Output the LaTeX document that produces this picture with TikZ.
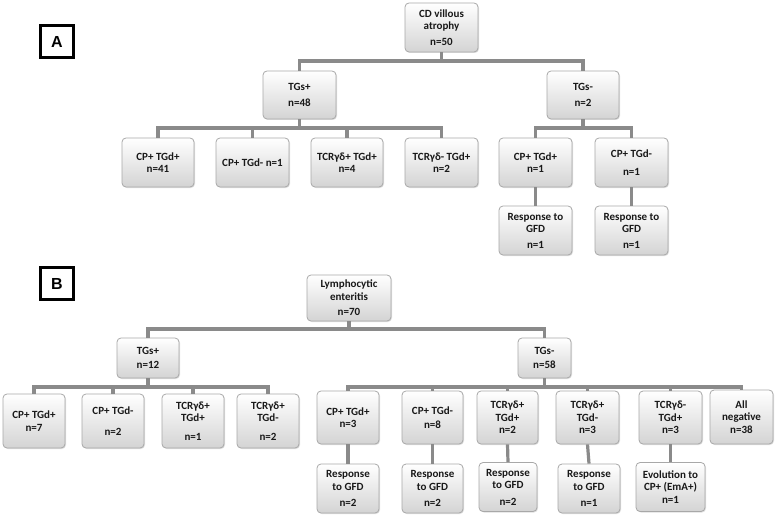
\documentclass[tikz,border=0pt]{standalone}
\usepackage{fontspec}
\setmainfont{Carlito}
\newfontfamily\labfont{Liberation Sans}
\usetikzlibrary{shadows}
\definecolor{conncol}{HTML}{8A8A8A}
\definecolor{boxline}{HTML}{A8A8A8}
\tikzset{
  box/.style={draw=boxline, line width=0.8pt, rounded corners=4pt, top color=white, bottom color=black!17,
    align=center, inner sep=0pt, text=black!90,
    font=\bfseries\fontsize{11}{12.5}\selectfont,
    drop shadow={shadow xshift=1pt, shadow yshift=-1pt, opacity=0.25, fill=black!50}},
  wA/.style={minimum width=73pt, minimum height=49pt},
  conn/.style={draw=conncol, line width=3.2pt},
  panel/.style={draw=black, line width=2.8pt, minimum width=33pt, minimum height=32pt, inner sep=0pt,
    font=\labfont\bfseries\fontsize{16}{16}\selectfont}
}
\begin{document}
\begin{tikzpicture}[x=1pt,y=-1pt]
\useasboundingbox (0,0) rectangle (776,516);
% ---------- Panel A ----------
\node[panel] (labA) at (57,41.5) {A};
\node[box,wA] (cd) at (441.5,27.5) {CD villous\\atrophy\\[3pt]n=50};
\node[box,wA,minimum height=48pt] (ap) at (299.5,95) {TGs+\\[4pt]n=48};
\node[box,minimum width=72pt,minimum height=48pt] (am) at (583,95) {TGs-\\[4pt]n=2};
\node[box,minimum width=72pt,minimum height=49pt] (a1) at (158,162.5) {CP+ TGd+\\n=41};
\node[box,wA] (a2) at (252.5,162.5) {CP+ TGd- n=1};
\node[box,minimum width=72pt,minimum height=49pt] (a3) at (347,162.5) {TCRγδ+ TGd+\\n=4};
\node[box,wA] (a4) at (441.5,162.5) {TCRγδ- TGd+\\n=2};
\node[box,wA] (a5) at (535.5,162.5) {CP+ TGd+\\n=1};
\node[box,wA] (a6) at (631.5,162.5) {CP+ TGd-\\[5pt]n=1};
\node[box,wA] (ar1) at (535.5,230.5) {Response to\\GFD\\[3pt]n=1};
\node[box,wA] (ar2) at (631.5,230.5) {Response to\\GFD\\[3pt]n=1};
% connectors A
\draw[conn] (cd.south) -- (cd.south |- 0,61) -| (ap.north);
\draw[conn] (cd.south) -- (cd.south |- 0,61) -| (am.north);
\foreach \c in {a1,a2,a3,a4} \draw[conn] (ap.south) -- (ap.south |- 0,128) -| (\c.north);
\foreach \c in {a5,a6} \draw[conn] (am.south) -- (am.south |- 0,128) -| (\c.north);
\draw[conn] (a5.south) -- (ar1.north);
\draw[conn] (a6.south) -- (ar2.north);
% ---------- Panel B ----------
\node[panel] (labB) at (57,283.5) {B};
\node[box,minimum width=84pt,minimum height=46pt] (le) at (349,298) {Lymphocytic\\enteritis\\[3pt]n=70};
\node[box,minimum width=62pt,minimum height=40pt] (bp) at (148,358) {TGs+\\[2pt]n=12};
\node[box,minimum width=53pt,minimum height=40pt] (bm) at (544.5,358) {TGs-\\[2pt]n=58};
\node[box,minimum width=62pt,minimum height=54pt] (b1) at (34,421) {CP+ TGd+\\n=7};
\node[box,minimum width=62pt,minimum height=54pt] (b2) at (113,421) {CP+ TGd-\\[8pt]n=2};
\node[box,minimum width=62pt,minimum height=54pt] (b3) at (193,421) {TCRγδ+\\TGd+\\[6pt]n=1};
\node[box,minimum width=62pt,minimum height=54pt] (b4) at (268,421) {TCRγδ+\\TGd-\\[6pt]n=2};
\node[box,minimum width=62pt,minimum height=53pt] (c1) at (348,417.5) {CP+ TGd+\\n=3};
\node[box,minimum width=61pt,minimum height=53pt] (c2) at (432.5,417.5) {CP+ TGd-\\[1pt]n=8};
\node[box,minimum width=61pt,minimum height=53pt] (c3) at (507.5,417.5) {TCRγδ+\\TGd+\\n=2};
\node[box,minimum width=63pt,minimum height=53pt] (c4) at (587.5,417.5) {TCRγδ+\\TGd-\\n=3};
\node[box,minimum width=63pt,minimum height=53pt] (c5) at (670.5,417.5) {TCRγδ-\\TGd+\\n=3};
\node[box,minimum width=63pt,minimum height=54pt] (c6) at (741.5,417) {All\\negative\\n=38};
\node[box,minimum width=62pt,minimum height=49pt] (r1) at (348,488.5) {Response\\to GFD\\[4pt]n=2};
\node[box,minimum width=61pt,minimum height=49pt] (r2) at (432.5,488.5) {Response\\to GFD\\[4pt]n=2};
\node[box,minimum width=58pt,minimum height=49pt] (r3) at (508,487) {Response\\to GFD\\[4pt]n=2};
\node[box,minimum width=62pt,minimum height=49pt] (r4) at (589,488.5) {Response\\to GFD\\[4pt]n=1};
\node[box,minimum width=69pt,minimum height=49pt] (r5) at (670.5,487) {Evolution to\\CP+ (EmA+)\\n=1};
% connectors B
\draw[conn] (le.south) -- (le.south |- 0,329) -| (bp.north);
\draw[conn] (le.south) -- (le.south |- 0,329) -| (bm.north);
\foreach \c in {b1,b2,b3,b4} \draw[conn] (bp.south) -- (bp.south |- 0,387) -| (\c.north);
\foreach \c in {c1,c2,c3,c4,c5,c6} \draw[conn] (bm.south) -- (bm.south |- 0,387) -| (\c.north);
\draw[conn] (c1.south) -- (r1.north);
\draw[conn] (c2.south) -- (r2.north);
\draw[conn] (c3.south) -- (r3.north);
\draw[conn] (c4.south) -- (r4.north);
\draw[conn] (c5.south) -- (r5.north);
\end{tikzpicture}
\end{document}
